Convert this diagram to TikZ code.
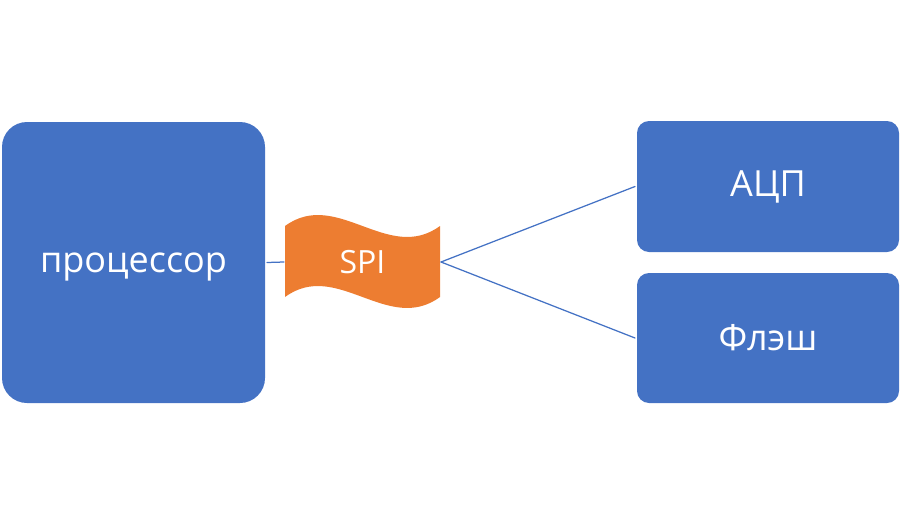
\documentclass[tikz,border=0pt]{standalone}
\usepackage{fontspec}
\setmainfont{Open Sans}
\definecolor{boxblue}{HTML}{4472C4}
\definecolor{wavor}{HTML}{ED7D31}
\begin{document}
\begin{tikzpicture}[x=1pt,y=-1pt,line join=round,line cap=round,
	blk/.style={fill=boxblue,text=white,inner sep=0pt,outer sep=0pt,font=\fontsize{36}{40}\selectfont},
	wire/.style={draw=boxblue,line width=1.25pt}]
		\useasboundingbox (0,0) rectangle (902,525);
		\node[blk,minimum width=263pt,minimum height=281pt,rounded corners=25pt,text depth=0pt] (proc) at (133.5,262.5) {процессор};
		\node[blk,minimum width=262pt,minimum height=131pt,rounded corners=12pt] (adc) at (768,186.5) {АЦП};
		\node[blk,minimum width=262pt,minimum height=130pt,rounded corners=12pt] (flash) at (768,338) {Флэш};
		\fill[wavor] (285,226) .. controls (337,188) and (388,264) .. (440,226)
		-- (440,297) .. controls (388,335) and (337,259) .. (285,297) -- cycle;
		\node[text=white,inner sep=0pt,outer sep=0pt,minimum width=157pt,minimum height=20pt,
		font=\fontsize{32}{36}\selectfont] (spi) at (362.5,262) {SPI};
		\draw[wire] (proc.east) ++(2,0) -- (spi.west);
		\draw[wire] (spi.east) -- ([xshift=-2pt]adc.west);
		\draw[wire] (spi.east) -- ([xshift=-2pt]flash.west);
		\end{tikzpicture}
\end{document}
